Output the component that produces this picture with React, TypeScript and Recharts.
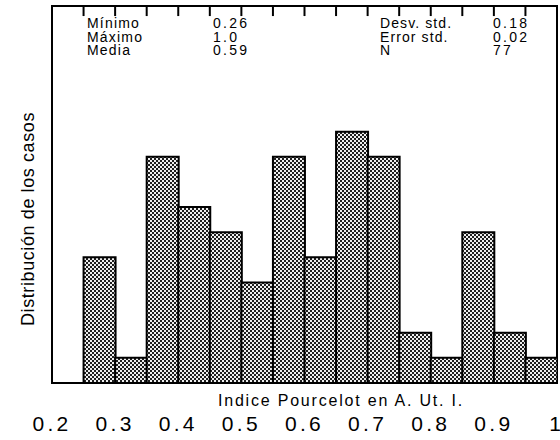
import React from "react";
import { ComposedChart, Bar, XAxis, YAxis, ReferenceArea, ReferenceLine } from "recharts";

// histogram bins (centres of 0.05-wide classes) and counts
const binMids = [0.275, 0.325, 0.375, 0.425, 0.475, 0.525, 0.575, 0.625, 0.675, 0.725, 0.775, 0.825, 0.875, 0.925, 0.975];
const counts = [5, 1, 9, 7, 6, 4, 9, 5, 10, 9, 2, 1, 6, 2, 1];

const xTicks = [0.2, 0.3, 0.4, 0.5, 0.6, 0.7, 0.8, 0.9, 1];
const topTicks = [0.25, 0.3, 0.35, 0.4, 0.45, 0.5, 0.55, 0.6, 0.65, 0.7, 0.75, 0.8, 0.85, 0.9, 0.95];
const yTicks = [0, 2, 4, 6, 8, 10, 12, 14];
const xDomain = [0.2, 1];
const yDomain = [0, 15];

const statLabelsLeft = ["Mínimo", "Máximo", "Media"];
const statValuesLeft = ["0.26", "1.0", "0.59"];
const statLabelsRight = ["Desv. std.", "Error std.", "N"];
const statValuesRight = ["0.18", "0.02", "77"];

const xTitle = "Indice Pourcelot en A. Ut. I.";
const yTitle = "Distribución de los casos";

const data = binMids.map((m, i) => ({ mid: m, count: counts[i] }));

const FONT = "'Liberation Sans', Arial, Helvetica, sans-serif";
const TOP_TICK_DEPTH = 0.4; // in count units (~10px)

const BottomTick = (props: any) => {
  const { x, y, payload } = props;
  const isLast = payload.value === 1;
  return (
    <text
      x={isLast ? x + 4 : x}
      y={y}
      dy={15}
      textAnchor={isLast ? "end" : "middle"}
      fontFamily={FONT}
      fontSize={21}
      letterSpacing={isLast ? 0 : 3.3}
      fill="#000"
    >
      {payload.value === 1 ? "1" : payload.value.toFixed(1)}
    </text>
  );
};

const rowBaselines = [28.3, 41.7, 55];

export default function App() {
  return (
    <div style={{ position: "absolute", left: 0, top: 0, width: 560, height: 440, background: "#fff" }}>
      <svg width={0} height={0} style={{ position: "absolute" }}>
        <defs>
          <pattern id="halftone" patternUnits="userSpaceOnUse" width={4} height={4}>
            <rect x={0} y={0} width={4} height={4} fill="#eeeeee" />
            <rect x={0} y={0} width={2} height={2} fill="#1e1e1e" />
            <rect x={2} y={2} width={2} height={2} fill="#1e1e1e" />
          </pattern>
        </defs>
      </svg>
      <ComposedChart
        width={560}
        height={440}
        data={data}
        margin={{ top: 6, right: 3, left: 0, bottom: 0 }}
        barCategoryGap={0}
        barGap={0}
      >
        <XAxis
          dataKey="mid"
          type="number"
          domain={xDomain}
          allowDataOverflow
          ticks={xTicks}
          interval={0}
          height={57}
          tickSize={0}
          tickMargin={33}
          tickLine={false}
          axisLine={{ stroke: "#000", strokeWidth: 2 }}
          tick={<BottomTick />}
        />
        <YAxis
          domain={yDomain}
          allowDataOverflow
          ticks={yTicks}
          interval={0}
          width={52}
          tickSize={2}
          tick={false}
          tickLine={{ stroke: "#000", strokeWidth: 1.5 }}
          axisLine={{ stroke: "#000", strokeWidth: 2 }}
        />
        <Bar
          dataKey="count"
          fill="url(#halftone)"
          stroke="#000"
          strokeWidth={2}
          isAnimationActive={false}
        />
        <ReferenceArea
          x1={xDomain[0]}
          x2={xDomain[1]}
          y1={yDomain[0]}
          y2={yDomain[1]}
          fill="none"
          fillOpacity={0}
          stroke="#000"
          strokeWidth={2}
          ifOverflow="visible"
        />
        {topTicks.map((t) => (
          <ReferenceLine
            key={t}
            segment={[
              { x: t, y: yDomain[1] },
              { x: t, y: yDomain[1] - TOP_TICK_DEPTH },
            ]}
            stroke="#000"
            strokeWidth={2}
            ifOverflow="visible"
          />
        ))}
      </ComposedChart>
      <svg
        width={560}
        height={440}
        style={{ position: "absolute", left: 0, top: 0, pointerEvents: "none" }}
      >
        <g fontFamily={FONT} fontSize={14} fill="#000">
          {statLabelsLeft.map((t, i) => (
            <text key={"ll" + i} x={87} y={rowBaselines[i]} letterSpacing={1.2}>{t}</text>
          ))}
          {statValuesLeft.map((t, i) => (
            <text key={"lv" + i} x={213} y={rowBaselines[i]} letterSpacing={2.3}>{t}</text>
          ))}
          {statLabelsRight.map((t, i) => (
            <text key={"rl" + i} x={380} y={rowBaselines[i]} letterSpacing={1.1}>{t}</text>
          ))}
          {statValuesRight.map((t, i) => (
            <text key={"rv" + i} x={493} y={rowBaselines[i]} letterSpacing={2.3}>{t}</text>
          ))}
        </g>
        <text
          x={341}
          y={406}
          textAnchor="middle"
          fontFamily={FONT}
          fontSize={16}
          letterSpacing={1.8}
          fill="#000"
        >
          {xTitle}
        </text>
        <text
          transform="translate(34,219) rotate(-90)"
          textAnchor="middle"
          fontFamily={FONT}
          fontSize={18}
          letterSpacing={0.6}
          fill="#000"
        >
          {yTitle}
        </text>
      </svg>
    </div>
  );
}
